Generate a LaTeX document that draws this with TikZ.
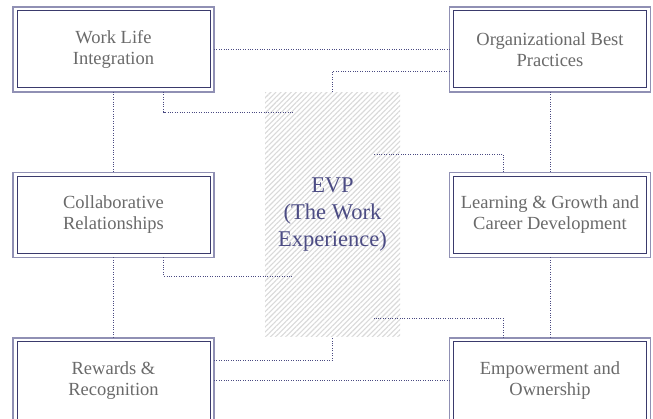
\documentclass[tikz,border=0pt]{standalone}
\usepackage{fontspec}
\setmainfont{Liberation Serif}
\usetikzlibrary{patterns.meta,calc}
\definecolor{outerc}{HTML}{9090B4}
\definecolor{innerc}{HTML}{3A3A6C}
\definecolor{textc}{HTML}{6A6A6A}
\definecolor{evpc}{HTML}{4C4C84}
\definecolor{linkc}{HTML}{4A4A82}
\definecolor{hatchc}{HTML}{D9D9D9}
\tikzset{
  boxst/.style={minimum width=201pt, minimum height=85pt, draw=outerc, line width=1.8pt,
    outer sep=0pt, text=textc, align=center, font=\fontsize{18.5}{21}\selectfont, fill=white},
  innerst/.style={draw=innerc, line width=1pt},
  evpst/.style={minimum width=135pt, minimum height=244pt, outer sep=0pt,
    pattern={Lines[angle=45, distance=3.6pt, line width=1.1pt]}, pattern color=hatchc,
    text=evpc, align=center, font=\fontsize{22.5}{27}\selectfont},
  linkst/.style={draw=linkc, line width=0.75pt, dash pattern=on 1pt off 1.4pt}
}
\begin{document}
\begin{tikzpicture}[x=1pt,y=-1pt]
\path[use as bounding box, clip] (0,0) rectangle (653,419);
\fill[white] (0,0) rectangle (653,419);
% central hatched area
\node[evpst] (evp) at (332.5,215) {EVP\\(The Work\\Experience)};
% boxes
\node[boxst] (wli) at (113.5,49.5) {Work Life\\Integration};
\node[boxst] (obp) at (550,49.5) {Organizational Best\\Practices};
\node[boxst] (col) at (113.5,215) {Collaborative\\Relationships};
\node[boxst] (lgc) at (550,215) {Learning \& Growth and\\Career Development};
\node[boxst] (rew) at (113.5,380.5) {Rewards \&\\Recognition};
\node[boxst] (emp) at (550,380.5) {Empowerment and\\Ownership};
\foreach \n in {wli,obp,col,lgc,rew,emp}
  \draw[innerst] ([shift={(4pt,4pt)}]\n.south west) rectangle ([shift={(-4pt,-4pt)}]\n.north east);
% free ends inside the hatched area
\coordinate (c3) at (293,112);
\coordinate (c6) at (374,154);
\coordinate (c8) at (293,276);
\coordinate (c10) at (374,318);
% connectors
\draw[linkst] (wli.east) -- (obp.west);
\draw[linkst] ([yshift=-22pt]obp.west) -| (evp.north);
\draw[linkst] ([xshift=50pt]wli.south) |- (c3);
\draw[linkst] (wli.south) -- (col.north);
\draw[linkst] (obp.south) -- (lgc.north);
\draw[linkst] ([xshift=-47pt]lgc.north) |- (c6);
\draw[linkst] (col.south) -- (rew.north);
\draw[linkst] ([xshift=50pt]col.south) |- (c8);
\draw[linkst] (lgc.south) -- (emp.north);
\draw[linkst] ([xshift=-47pt]emp.north) |- (c10);
\draw[linkst] ([yshift=20.5pt]rew.east) -| (evp.south);
\draw[linkst] (rew.east) -- (emp.west);
\end{tikzpicture}
\end{document}
